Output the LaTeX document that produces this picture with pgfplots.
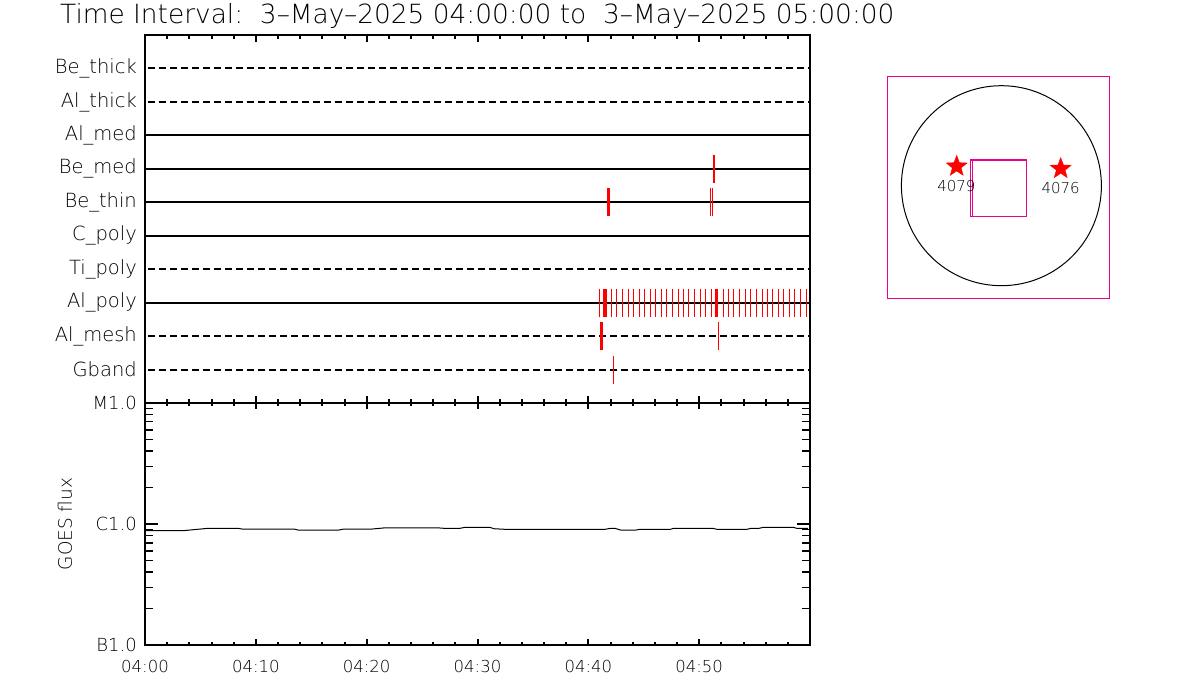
\documentclass[border=0pt]{standalone}
\usepackage{fontspec}
\IfFontExistsTF{DejaVu Sans ExtraLight}{\setmainfont{DejaVu Sans ExtraLight}}{\setmainfont{DejaVu Sans}}
\usepackage{pgfplots}
\pgfplotsset{compat=1.18}

\pgfdeclareplotmark{fstar}{%
 \pgfpathmoveto{\pgfpointpolar{90}{\pgfplotmarksize}}%
 \pgfpathlineto{\pgfpointpolar{126}{0.42\pgfplotmarksize}}%
 \pgfpathlineto{\pgfpointpolar{162}{\pgfplotmarksize}}%
 \pgfpathlineto{\pgfpointpolar{198}{0.42\pgfplotmarksize}}%
 \pgfpathlineto{\pgfpointpolar{234}{\pgfplotmarksize}}%
 \pgfpathlineto{\pgfpointpolar{270}{0.42\pgfplotmarksize}}%
 \pgfpathlineto{\pgfpointpolar{306}{\pgfplotmarksize}}%
 \pgfpathlineto{\pgfpointpolar{342}{0.42\pgfplotmarksize}}%
 \pgfpathlineto{\pgfpointpolar{18}{\pgfplotmarksize}}%
 \pgfpathlineto{\pgfpointpolar{54}{0.42\pgfplotmarksize}}%
 \pgfpathclose
 \pgfusepathqfillstroke}

\begin{document}
\begin{tikzpicture}
\path[use as bounding box] (0bp,0bp) rectangle (1200bp,700bp);

\node[anchor=base west, inner sep=0pt, font=\fontsize{26.4bp}{28bp}\selectfont] at (60bp,676bp)
  {Time Interval:\ \ 3--May--2025 04:00:00 to\ \ 3--May--2025 05:00:00};

% ---------------- upper panel ----------------
\begin{axis}[
  at={(145bp,297bp)}, anchor=south west, scale only axis,
  width=665bp, height=368bp,
  xmin=0, xmax=60, ymin=0, ymax=11,
  xtick={0,10,20,30,40,50,60}, minor x tick num=4, xticklabels={,,,,,,},
  ytick={1,2,3,4,5,6,7,8,9,10},
  yticklabels={Gband,Al\_mesh,Al\_poly,Ti\_poly,C\_poly,Be\_thin,Be\_med,Al\_med,Al\_thick,Be\_thick},
  ytick style={draw=none},
  xtick style={black, line width=2bp},
  axis line style={line width=2bp},
  major tick length=7bp, minor tick length=4bp,
  yticklabel style={font=\fontsize{19.5bp}{21bp}\selectfont, inner sep=0pt, xshift=-8bp},
]
\addplot[black, line width=2bp, dash pattern=on 7bp off 4bp] coordinates {(0.3,10) (60,10)};
\addplot[black, line width=2bp, dash pattern=on 7bp off 4bp] coordinates {(0.3,9) (60,9)};
\addplot[black, line width=2bp] coordinates {(0,8) (60,8)};
\addplot[black, line width=2bp] coordinates {(0,7) (60,7)};
\addplot[black, line width=2bp] coordinates {(0,6) (60,6)};
\addplot[black, line width=2bp] coordinates {(0,5) (60,5)};
\addplot[black, line width=2bp, dash pattern=on 7bp off 4bp] coordinates {(0.3,4) (60,4)};
\addplot[black, line width=2bp] coordinates {(0,3) (60,3)};
\addplot[black, line width=2bp, dash pattern=on 7bp off 4bp] coordinates {(0.3,2) (60,2)};
\addplot[black, line width=2bp, dash pattern=on 7bp off 4bp] coordinates {(0.3,1) (60,1)};

% Be_med
\addplot[only marks, red, mark=|, mark size=14bp, mark options={line width=2bp}] coordinates {(51.34,7)};
% Be_thin
\addplot[only marks, red, mark=|, mark size=14bp, mark options={line width=3bp}] coordinates {(41.82,6)};
\addplot[only marks, red, mark=|, mark size=14bp, mark options={line width=1bp}] coordinates {(51.00,6) (51.18,6)};
% Al_poly
\addplot[only marks, red, mark=|, mark size=14bp, mark options={line width=1bp}] coordinates {
 (40.99,3) (42.05,3) (42.56,3) (43.07,3) (43.61,3) (44.09,3) (44.60,3) (45.08,3)
 (45.59,3) (46.08,3) (46.56,3) (47.07,3) (47.58,3) (48.09,3) (48.57,3) (49.08,3)
 (49.60,3) (50.08,3) (50.59,3) (51.10,3) (52.18,3) (52.66,3) (53.14,3) (53.65,3)
 (54.17,3) (54.65,3) (55.16,3) (55.67,3) (56.15,3) (56.64,3) (57.15,3) (57.63,3)
 (58.11,3) (58.62,3) (59.13,3) (59.70,3)};
\addplot[only marks, red, mark=|, mark size=14bp, mark options={line width=4bp}] coordinates {(41.48,3)};
\addplot[only marks, red, mark=|, mark size=14bp, mark options={line width=3bp}] coordinates {(51.58,3)};
% Al_mesh
\addplot[only marks, red, mark=|, mark size=14bp, mark options={line width=3bp}] coordinates {(41.19,2)};
\addplot[only marks, red, mark=|, mark size=14bp, mark options={line width=1bp}] coordinates {(51.73,2)};
% Gband
\addplot[only marks, red, mark=|, mark size=14bp, mark options={line width=1bp}] coordinates {(42.26,1)};
\end{axis}

% ---------------- lower panel: y ticks (long) ----------------
\begin{axis}[
  at={(145bp,55bp)}, anchor=south west, scale only axis,
  width=665bp, height=242bp,
  xmin=0, xmax=60, ymode=log, ymin=1e-7, ymax=1e-5,
  xtick=\empty,
  ytick={1e-7,1e-6,1e-5}, yticklabels={B1.0,C1.0,M1.0},
  axis line style={line width=2bp},
  tick style={black, line width=1.5bp},
  major tick length=13bp, minor tick length=8bp,
  yticklabel style={font=\fontsize{18bp}{19bp}\selectfont, inner sep=0pt, xshift=-8bp},
]
\addplot[black, line width=1bp] coordinates {
 (0,8.80e-7) (3.43,8.80e-7) (4.06,8.92e-7) (5.68,9.21e-7) (8.39,9.21e-7) (8.75,9.09e-7)
 (13.44,9.09e-7) (13.8,8.92e-7) (17.5,8.92e-7) (17.96,9.09e-7) (20.5,9.09e-7) (21.5,9.27e-7)
 (26.6,9.27e-7) (27.0,9.21e-7) (28.4,9.21e-7) (28.9,9.39e-7) (31.1,9.39e-7) (31.5,9.14e-7)
 (32.5,9.04e-7) (41.5,9.04e-7) (42.0,9.21e-7) (42.4,9.21e-7) (42.9,8.92e-7) (44.3,8.92e-7)
 (44.7,9.04e-7) (47.4,9.04e-7) (47.7,9.21e-7) (51.25,9.21e-7) (51.6,9.04e-7) (54.3,9.04e-7)
 (54.7,9.21e-7) (55.4,9.21e-7) (55.8,9.39e-7) (58.5,9.39e-7) (58.8,9.21e-7) (59.8,9.21e-7)};
\end{axis}

% ---------------- lower panel: x ticks (short) ----------------
\begin{axis}[
  at={(145bp,55bp)}, anchor=south west, scale only axis,
  width=665bp, height=242bp,
  xmin=0, xmax=60, ymin=0, ymax=1,
  ytick=\empty,
  xtick={0,10,20,30,40,50,60}, minor x tick num=4,
  xticklabels={04:00,04:10,04:20,04:30,04:40,04:50,},
  axis line style={line width=2bp},
  tick style={black, line width=2bp},
  major tick length=6bp, minor tick length=3bp,
  xticklabel style={font=\fontsize{16.5bp}{18bp}\selectfont, inner sep=0pt, yshift=-15bp},
]
\end{axis}

\node[rotate=90, inner sep=0pt, font=\fontsize{18.5bp}{20bp}\selectfont] at (65bp,176bp) {GOES flux};

% ---------------- solar disk panel ----------------
\begin{axis}[
  at={(887bp,401bp)}, anchor=south west, scale only axis,
  width=222bp, height=222bp,
  xmin=-1110, xmax=1110, ymin=-1110, ymax=1110,
  ticks=none,
  axis line style={magenta, line width=1bp},
  clip=false,
]
\draw[black, line width=1bp] (axis cs:34,23) circle [radius=1000];
\addplot[magenta, line width=1.5bp] coordinates {(-276,-284) (284,-284) (284,280) (-276,280) (-276,-284)};
\addplot[magenta, line width=1bp] coordinates {(-258,-284) (287,-284) (287,280) (-258,280) (-258,-284)};
\addplot[only marks, mark=fstar, mark size=11bp, red] coordinates {(-413,216) (627,193)};
\node[font=\fontsize{15bp}{17bp}\selectfont, inner sep=0pt] at (axis cs:-416,16) {4079};
\node[font=\fontsize{15bp}{17bp}\selectfont, inner sep=0pt] at (axis cs:627,-4) {4076};
\end{axis}
\end{tikzpicture}
\end{document}
